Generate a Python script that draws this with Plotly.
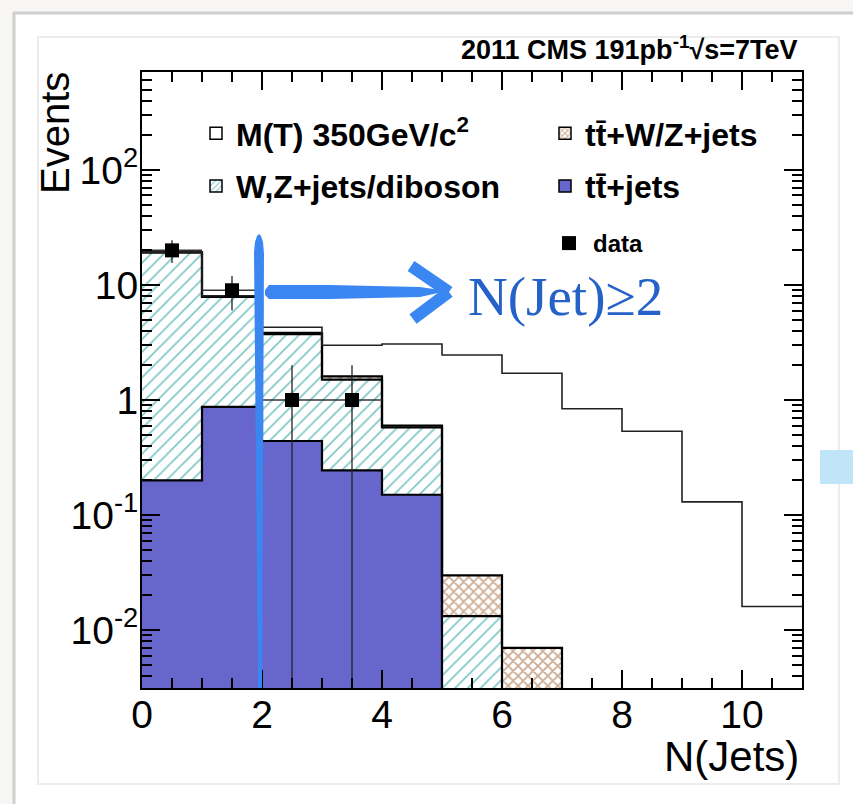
import numpy as np
import plotly.graph_objects as go

# ---------------- data ----------------
bin_edges = list(range(0, 12))
bin_centers = [e + 0.5 for e in bin_edges[:-1]]

tt_jets = [0.20, 0.87, 0.44, 0.244, 0.15, 0, 0, 0, 0, 0, 0]
wz_jets = [19.0, 7.0, 3.30, 1.26, 0.427, 0.0132, 0, 0, 0, 0, 0]
ttv_jets = [0.03, 0.05, 0.09, 0.10, 0.023, 0.0167, 0.0070, 0, 0, 0, 0]
signal = [0.05, 0.15, 0.46, 1.39, 2.47, 2.43, 1.70, 0.84, 0.534, 0.13, 0.016]

data_x = [0.5, 1.5, 2.5, 3.5]
data_y = [20, 9, 1, 1]

y_tickvals = [0.01, 0.1, 1, 10, 100]
y_ticktext = ["10<sup>-2</sup>", "10<sup>-1</sup>", "1", "10", "10<sup>2</sup>"]
x_tickvals = [0, 2, 4, 6, 8, 10]

# ---------------- styling ----------------
W, H = 853, 804
L, R, T, B = 142, 51, 72, 116
PW, PH = W - L - R, H - T - B

def px(x):
    return (x - L) / PW

def py(y):
    return (H - B - y) / PH

PURPLE = "#6666cc"
TEAL = "#008b8b"
BROWN = "#9a5a2a"
BLUE = "#3a87f2"
FONT = "Liberation Sans"

fig = go.Figure()

# stacked histogram fills
fig.add_trace(go.Bar(x=bin_centers, y=tt_jets, width=1, marker=dict(color=PURPLE, line=dict(width=0)),
                     showlegend=False, hoverinfo="skip"))
fig.add_trace(go.Bar(x=bin_centers, y=wz_jets, width=1,
                     marker=dict(color="white", line=dict(width=0),
                                 pattern=dict(shape="/", fgcolor=TEAL, bgcolor="white", size=9, solidity=0.18)),
                     showlegend=False, hoverinfo="skip"))
fig.add_trace(go.Bar(x=bin_centers, y=ttv_jets, width=1,
                     marker=dict(color="white", line=dict(width=0),
                                 pattern=dict(shape="x", fgcolor=BROWN, bgcolor="white", size=7, solidity=0.45)),
                     showlegend=False, hoverinfo="skip"))
fig.add_trace(go.Bar(x=bin_centers, y=signal, width=1, marker=dict(color="white", line=dict(width=0)),
                     showlegend=False, hoverinfo="skip"))

# step outlines of the cumulative stack
FLOOR = 1e-6
cum = np.zeros(len(bin_centers))
for vals, lw, col in [(tt_jets, 2.2, "black"), (wz_jets, 2.2, "black"), (ttv_jets, 2.2, "black"), (signal, 1.6, "#222")]:
    cum = cum + np.array(vals)
    yv = [c if nz else FLOOR for c, nz in zip(cum, cum > 0)]
    yv = list(yv) + [yv[-1]]
    fig.add_trace(go.Scatter(x=bin_edges, y=yv, mode="lines", line=dict(color=col, width=lw, shape="hv"),
                             showlegend=False, hoverinfo="skip"))

# data points
fig.add_trace(go.Scatter(x=data_x, y=data_y, mode="markers", name="<b>data</b>",
                         marker=dict(symbol="square", size=14, color="black"),
                         error_y=dict(type="data", array=list(np.sqrt(data_y)), color="#222", thickness=1.3, width=0),
                         error_x=dict(type="constant", value=0.5, color="#333", thickness=1.6, width=0),
                         legend="legend3", legendgroup="d"))

# legend-only entries
fig.add_trace(go.Bar(x=[None], y=[None], name="M(T) 350GeV/c<sup>2</sup>",
                     marker=dict(color="white", line=dict(color="black", width=1.5)),
                     legend="legend", legendgroup="a"))
fig.add_trace(go.Bar(x=[None], y=[None], name="W,Z+jets/diboson",
                     marker=dict(color="white", line=dict(color="black", width=1.5),
                                 pattern=dict(shape="/", fgcolor=TEAL, bgcolor="white", size=5, solidity=0.25)),
                     legend="legend", legendgroup="b"))
fig.add_trace(go.Bar(x=[None], y=[None], name="tt\u0304+W/Z+jets",
                     marker=dict(color="white", line=dict(color="black", width=1.5),
                                 pattern=dict(shape="x", fgcolor=BROWN, bgcolor="white", size=5, solidity=0.45)),
                     legend="legend2", legendgroup="c"))
fig.add_trace(go.Bar(x=[None], y=[None], name="tt\u0304+jets",
                     marker=dict(color=PURPLE, line=dict(color="black", width=1.5)),
                     legend="legend2", legendgroup="e"))

axis_common = dict(showline=True, linecolor="black", linewidth=2, mirror="allticks", ticks="inside",
                   tickwidth=2, ticklen=18, tickcolor="black", showgrid=False, zeroline=False,
                   tickfont=dict(family=FONT, size=39, color="black"))

minor_y = [m * 10.0 ** d for d in range(-3, 3) for m in range(2, 10)]

legend_font = dict(family=FONT, size=32, color="black", weight="bold")
fig.update_layout(
    width=W, height=H, autosize=False,
    margin=dict(l=L, r=R, t=T, b=B),
    paper_bgcolor="#f7f6f4", plot_bgcolor="white",
    barmode="stack", bargap=0,
    xaxis=dict(range=[0, 11], tickvals=x_tickvals, ticklabelstandoff=-9,
               minor=dict(dtick=0.5, ticks="inside", ticklen=10, tickwidth=2, tickcolor="black", showgrid=False),
               **axis_common),
    yaxis=dict(type="log", range=[np.log10(0.00313), 2.852], tickvals=y_tickvals, ticktext=y_ticktext,
               ticklabelstandoff=-6,
               minor=dict(tickvals=minor_y, ticks="inside", ticklen=10, tickwidth=2, tickcolor="black", showgrid=False),
               **axis_common),
    legend=dict(x=px(196), y=py(106), xanchor="left", yanchor="top", bgcolor="rgba(0,0,0,0)",
                font=legend_font, traceorder="grouped", tracegroupgap=8, itemwidth=30),
    legend2=dict(x=px(545), y=py(106), xanchor="left", yanchor="top", bgcolor="rgba(0,0,0,0)",
                 font=legend_font, traceorder="grouped", tracegroupgap=8, itemwidth=30),
    legend3=dict(x=px(545), y=py(221), xanchor="left", yanchor="top", bgcolor="rgba(0,0,0,0)",
                 font=dict(family=FONT, size=24, color="black", weight="bold"), itemwidth=38),
)

shapes = [
    # outer panel with soft border
    dict(type="rect", xref="paper", yref="paper", x0=px(14), y0=py(13), x1=px(900), y1=py(900),
         fillcolor="white", line=dict(color="#cfcfcf", width=3), layer="below"),
    # inner frame
    dict(type="rect", xref="paper", yref="paper", x0=px(38), y0=py(37), x1=px(839), y1=py(784),
         fillcolor="white", line=dict(color="#ececec", width=2), layer="below"),
    # light blue tab at right edge
    dict(type="rect", xref="paper", yref="paper", x0=px(820), y0=py(450), x1=px(860), y1=py(484),
         fillcolor="#c0e4f8", line=dict(width=0), layer="above"),
]

def path(points):
    return "M " + " L ".join(f"{px(x):.5f},{py(y):.5f}" for x, y in points) + " Z"

# hand-drawn blue markings
shapes.append(dict(type="path", xref="paper", yref="paper", layer="above",
                   path=path([(254, 252), (255, 242), (257, 236), (259, 234), (261, 236), (263, 242), (264, 254),
                              (262, 688), (258, 688)]),
                   fillcolor=BLUE, line=dict(width=0)))
shapes.append(dict(type="path", xref="paper", yref="paper", layer="above",
                   path=path([(265, 290), (269, 285), (330, 285), (420, 287), (447, 291), (420, 297), (330, 299),
                              (269, 299), (265, 295)]),
                   fillcolor=BLUE, line=dict(width=0)))
shapes.append(dict(type="line", xref="paper", yref="paper", layer="above",
                   x0=px(411), y0=py(266), x1=px(449), y1=py(292), line=dict(color=BLUE, width=12)))
shapes.append(dict(type="line", xref="paper", yref="paper", layer="above",
                   x0=px(449), y0=py(292), x1=px(413), y1=py(319), line=dict(color=BLUE, width=12)))
fig.update_layout(shapes=shapes)

annotations = [
    dict(text="<b>2011 CMS 191pb<sup>-1</sup>√s=7TeV</b>", xref="paper", yref="paper", x=px(800), y=py(67),
         xanchor="right", yanchor="bottom", showarrow=False, font=dict(family=FONT, size=27, color="black")),
    dict(text="N(Jets)", xref="paper", yref="paper", x=px(801), y=py(782), xanchor="right", yanchor="bottom",
         showarrow=False, font=dict(family=FONT, size=42, color="black")),
    dict(text="Events", xref="paper", yref="paper", x=px(55), y=py(70), xanchor="center", yanchor="top",
         textangle=-90, showarrow=False, font=dict(family=FONT, size=40, color="black")),
    dict(text="N(Jet)≥2", xref="paper", yref="paper", x=px(466), y=py(296), xanchor="left", yanchor="middle",
         showarrow=False, font=dict(family="Liberation Serif", size=55, color="#2461c8")),
]
fig.update_layout(annotations=annotations)

fig.write_html("out.html")
